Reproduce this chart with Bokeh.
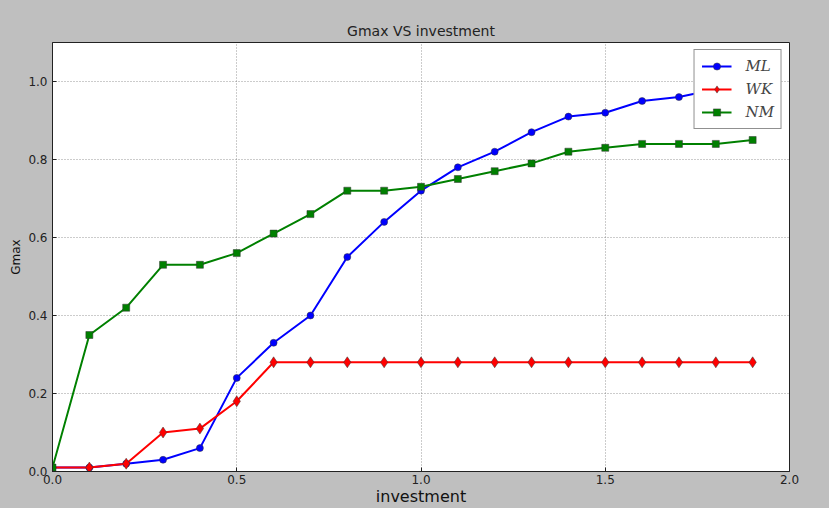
from bokeh.plotting import figure
from bokeh.models import Range1d, FixedTicker, Legend, LegendItem, NumeralTickFormatter
from bokeh.embed import file_html
from bokeh.resources import INLINE

investment = [0.0, 0.1, 0.2, 0.3, 0.4, 0.5, 0.6, 0.7, 0.8, 0.9,
              1.0, 1.1, 1.2, 1.3, 1.4, 1.5, 1.6, 1.7, 1.8, 1.9]
ml = [0.01, 0.01, 0.02, 0.03, 0.06, 0.24, 0.33, 0.40, 0.55, 0.64,
      0.72, 0.78, 0.82, 0.87, 0.91, 0.92, 0.95, 0.96, 0.98, 0.99]
wk = [0.01, 0.01, 0.02, 0.10, 0.11, 0.18, 0.28, 0.28, 0.28, 0.28,
      0.28, 0.28, 0.28, 0.28, 0.28, 0.28, 0.28, 0.28, 0.28, 0.28]
nm = [0.01, 0.35, 0.42, 0.53, 0.53, 0.56, 0.61, 0.66, 0.72, 0.72,
      0.73, 0.75, 0.77, 0.79, 0.82, 0.83, 0.84, 0.84, 0.84, 0.85]
x_ticks = [0.0, 0.5, 1.0, 1.5, 2.0]
y_ticks = [0.0, 0.2, 0.4, 0.6, 0.8, 1.0]

BG = "#bfbfbf"
FONT = "DejaVu Sans"

p = figure(width=829, height=508, output_backend="svg", toolbar_location=None,
           x_range=Range1d(0, 2.0), y_range=Range1d(0, 1.1),
           title="Gmax VS investment",
           min_border_left=52, min_border_right=40, min_border_top=42, min_border_bottom=36)

p.background_fill_color = "white"
p.border_fill_color = BG
p.outline_line_color = "#222222"
p.outline_line_width = 1

p.title.align = "center"
p.title.text_font = FONT
p.title.text_font_size = "14px"
p.title.text_font_style = "normal"
p.title.text_color = "#222222"
p.title.standoff = 8

for ax in (p.xaxis[0], p.yaxis[0]):
    ax.major_label_text_font = FONT
    ax.major_label_text_font_size = "12px"
    ax.major_label_text_color = "#222222"
    ax.axis_label_text_font = FONT
    ax.axis_label_text_font_style = "normal"
    ax.axis_label_text_color = "#111111"
    ax.major_tick_in = 4
    ax.major_tick_out = 0
    ax.minor_tick_line_color = None
    ax.axis_line_color = "#222222"
    ax.major_tick_line_color = "#222222"
    ax.formatter = NumeralTickFormatter(format="0.0")

p.xaxis[0].ticker = FixedTicker(ticks=x_ticks)
p.yaxis[0].ticker = FixedTicker(ticks=y_ticks)
p.xaxis[0].axis_label = "investment"
p.xaxis[0].axis_label_text_font_size = "16px"
p.xaxis[0].major_label_standoff = 3
p.xaxis[0].axis_label_standoff = 0
p.yaxis[0].axis_label = "Gmax"
p.yaxis[0].axis_label_text_font_size = "12px"
p.yaxis[0].major_label_standoff = 5
p.yaxis[0].axis_label_standoff = 2

p.grid.grid_line_color = "#555555"
p.grid.grid_line_alpha = 0.6
p.grid.grid_line_dash = "1 2"
p.grid.grid_line_width = 1

edge = "#333333"
l1 = p.line(investment, ml, color="#0000ff", line_width=2)
s1 = p.scatter(investment, ml, marker="circle", size=7, fill_color="#0000ff",
               line_color=edge, line_width=0.5)
l2 = p.line(investment, wk, color="#ff0000", line_width=2)
s2 = p.scatter(investment, wk, marker="diamond", size=11, fill_color="#ff0000",
               line_color=edge, line_width=0.5)
l3 = p.line(investment, nm, color="#008000", line_width=2)
s3 = p.scatter(investment, nm, marker="square", size=7, fill_color="#008000",
               line_color=edge, line_width=0.5)

legend = Legend(items=[LegendItem(label="ML", renderers=[l1, s1]),
                       LegendItem(label="WK", renderers=[l2, s2]),
                       LegendItem(label="NM", renderers=[l3, s3])],
                location="top_right")
legend.margin = 7
legend.padding = 7
legend.spacing = 5
legend.glyph_width = 30
legend.glyph_height = 18
legend.label_standoff = 14
legend.label_text_font = "DejaVu Serif"
legend.label_text_font_style = "italic"
legend.label_text_font_size = "15px"
legend.border_line_color = "#222222"
legend.border_line_width = 1
legend.background_fill_color = "white"
legend.background_fill_alpha = 1
p.add_layout(legend)

html = file_html(p, INLINE)
html = html.replace("<head>", "<head><style>body{background:#bfbfbf;}</style>", 1)
open("out.html", "w").write(html)
